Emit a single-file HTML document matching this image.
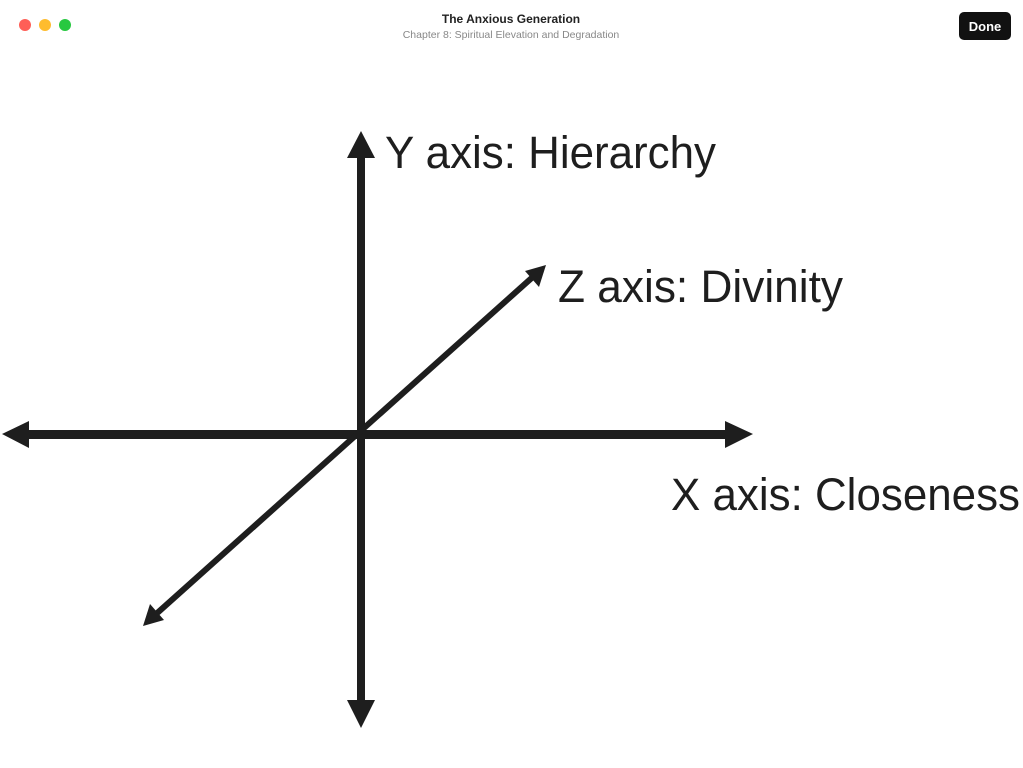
<!DOCTYPE html>
<html><head><style>
html,body{margin:0;padding:0;width:1023px;height:768px;overflow:hidden;background:#fff;font-family:"Liberation Sans",sans-serif;}
</style></head><body>
<svg width="1023" height="768" xmlns="http://www.w3.org/2000/svg">
<rect width="1023" height="768" fill="#fff"/>
<circle cx="25" cy="25" r="6" fill="#fe5f57"/>
<circle cx="45" cy="25" r="6" fill="#febc2e"/>
<circle cx="65" cy="25" r="6" fill="#28c840"/>
<text x="511" y="23" text-anchor="middle" font-size="12" font-weight="bold" fill="#222" font-family="Liberation Sans,sans-serif">The Anxious Generation</text>
<text x="511" y="38" text-anchor="middle" font-size="10.5" fill="#888" font-family="Liberation Sans,sans-serif">Chapter 8: Spiritual Elevation and Degradation</text>
<rect x="959" y="12" width="52" height="28" rx="5" fill="#111"/>
<text x="985" y="31" text-anchor="middle" font-size="13" font-weight="bold" fill="#fff" font-family="Liberation Sans,sans-serif">Done</text>
<g fill="#1e1e1e" stroke="none">
<rect x="357" y="155" width="8" height="548"/>
<polygon points="361,131 347,158 375,158"/>
<polygon points="361,728 347,700 375,700"/>
<rect x="27" y="430" width="700" height="9"/>
<polygon points="2,434 29,421 29,448"/>
<polygon points="753,434 725,421 725,448"/>
</g>
<line x1="155" y1="615" x2="535" y2="275" stroke="#1e1e1e" stroke-width="6"/>
<polygon points="546,265 539,287 525,271" fill="#1e1e1e"/>
<polygon points="143,626 150,604 164,620" fill="#1e1e1e"/>
<g font-family="Liberation Sans,sans-serif" font-size="45" fill="#1e1e1e">
<text x="385" y="168" textLength="331" lengthAdjust="spacingAndGlyphs">Y axis: Hierarchy</text>
<text x="558" y="302" textLength="285" lengthAdjust="spacingAndGlyphs">Z axis: Divinity</text>
<text x="671" y="510" textLength="349" lengthAdjust="spacingAndGlyphs">X axis: Closeness</text>
</g>
</svg>
</body></html>
